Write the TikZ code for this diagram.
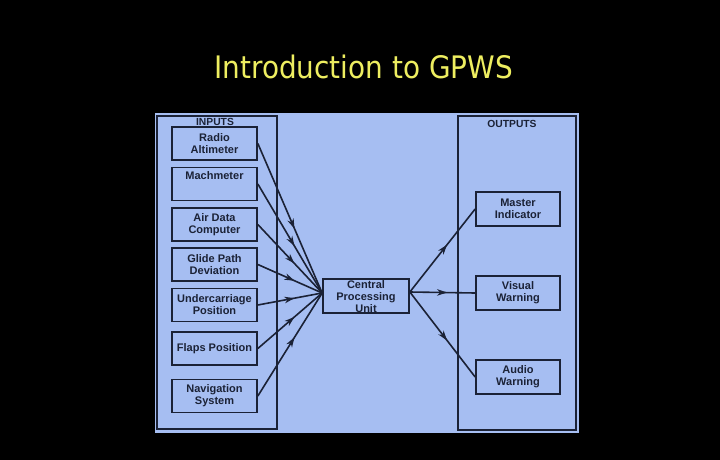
\documentclass[tikz,border=0pt]{standalone}
\usepackage{fontspec}
\setmainfont{Liberation Sans}
\newfontfamily\titlefont{DejaVu Sans}
\usetikzlibrary{arrows.meta,decorations.markings,calc}
\definecolor{panelblue}{HTML}{A6BEF2}
\definecolor{inkblue}{HTML}{1B2236}
\definecolor{titleyellow}{HTML}{EEEE60}
\tikzset{
  inbox/.style={draw=inkblue,line width=1.7pt,fill=panelblue,minimum width=85pt,minimum height=33pt,inner sep=0pt,align=center,text=inkblue,font=\bfseries\fontsize{11}{12}\selectfont},
  outbox/.style={inbox,minimum width=84pt,minimum height=34pt},
  container/.style={draw=inkblue,line width=1.5pt,inner sep=0pt},
  grouplabel/.style={text=inkblue,font=\bfseries\fontsize{10.3}{11}\selectfont,inner sep=0pt},
  link/.style={draw=inkblue,line width=1.6pt,postaction={decorate},
    decoration={markings,mark=at position 0.57 with {\arrow{Stealth[length=10pt,width=6.5pt,inset=3pt]}}}},
}
\begin{document}
\begin{tikzpicture}[x=1pt,y=-1pt]
\useasboundingbox (0,0) rectangle (720,460);
\fill[black] (0,0) rectangle (720,460);
\node[anchor=base,text=titleyellow,inner sep=0pt] (title) at (363.5,78) {\scalebox{0.9}[1]{\titlefont\fontsize{31}{31}\selectfont Introduction to GPWS}};
\fill[panelblue] (155,113) rectangle (579,433);
% containers
\node[container,minimum width=120pt,minimum height=313pt] (inputs) at (217,272.5) {};
\node[container,minimum width=118pt,minimum height=314pt] (outputs) at (517,273) {};
\node[grouplabel] (inlabel) at (215,122) {INPUTS};
\node[grouplabel] (outlabel) at (512,124) {OUTPUTS};
% input boxes
\node[inbox] (radio) at (214.5,143.5) {Radio\\Altimeter};
\node[inbox] (mach) at (214.5,184) {Machmeter\\[4pt]};
\node[inbox] (air) at (214.5,224.5) {Air Data\\Computer};
\node[inbox] (glide) at (214.5,264.5) {Glide Path\\Deviation};
\node[inbox] (under) at (214.5,305) {Undercarriage\\Position};
\node[inbox] (flaps) at (214.5,348.5) {Flaps Position};
\node[inbox] (nav) at (214.5,396) {Navigation\\System};
% central
\node[inbox,minimum width=86pt,minimum height=34pt] (cpu) at (366,296) {};
\node[text=inkblue,align=center,inner sep=0pt,font=\bfseries\fontsize{11}{12}\selectfont] (cpulabel) at (366,297) {Central\\Processing\\Unit};
\coordinate (cin) at ($(cpu.west)+(0,-3)$);
\coordinate (cout) at ($(cpu.east)+(0,-4)$);
% outputs
\node[outbox] (master) at (518,209) {Master\\Indicator};
\node[outbox] (visual) at (518,293) {Visual\\Warning};
\node[outbox] (audio) at (518,377) {Audio\\Warning};
% connectors
\foreach \n in {radio,mach,air,glide,under,flaps,nav}
  \draw[link] (\n.east) -- (cin);
\draw[link] (cout) -- (master.west);
\draw[link] (cout) -- (visual.west);
\draw[link] (cout) -- (audio.west);
\end{tikzpicture}
\end{document}
